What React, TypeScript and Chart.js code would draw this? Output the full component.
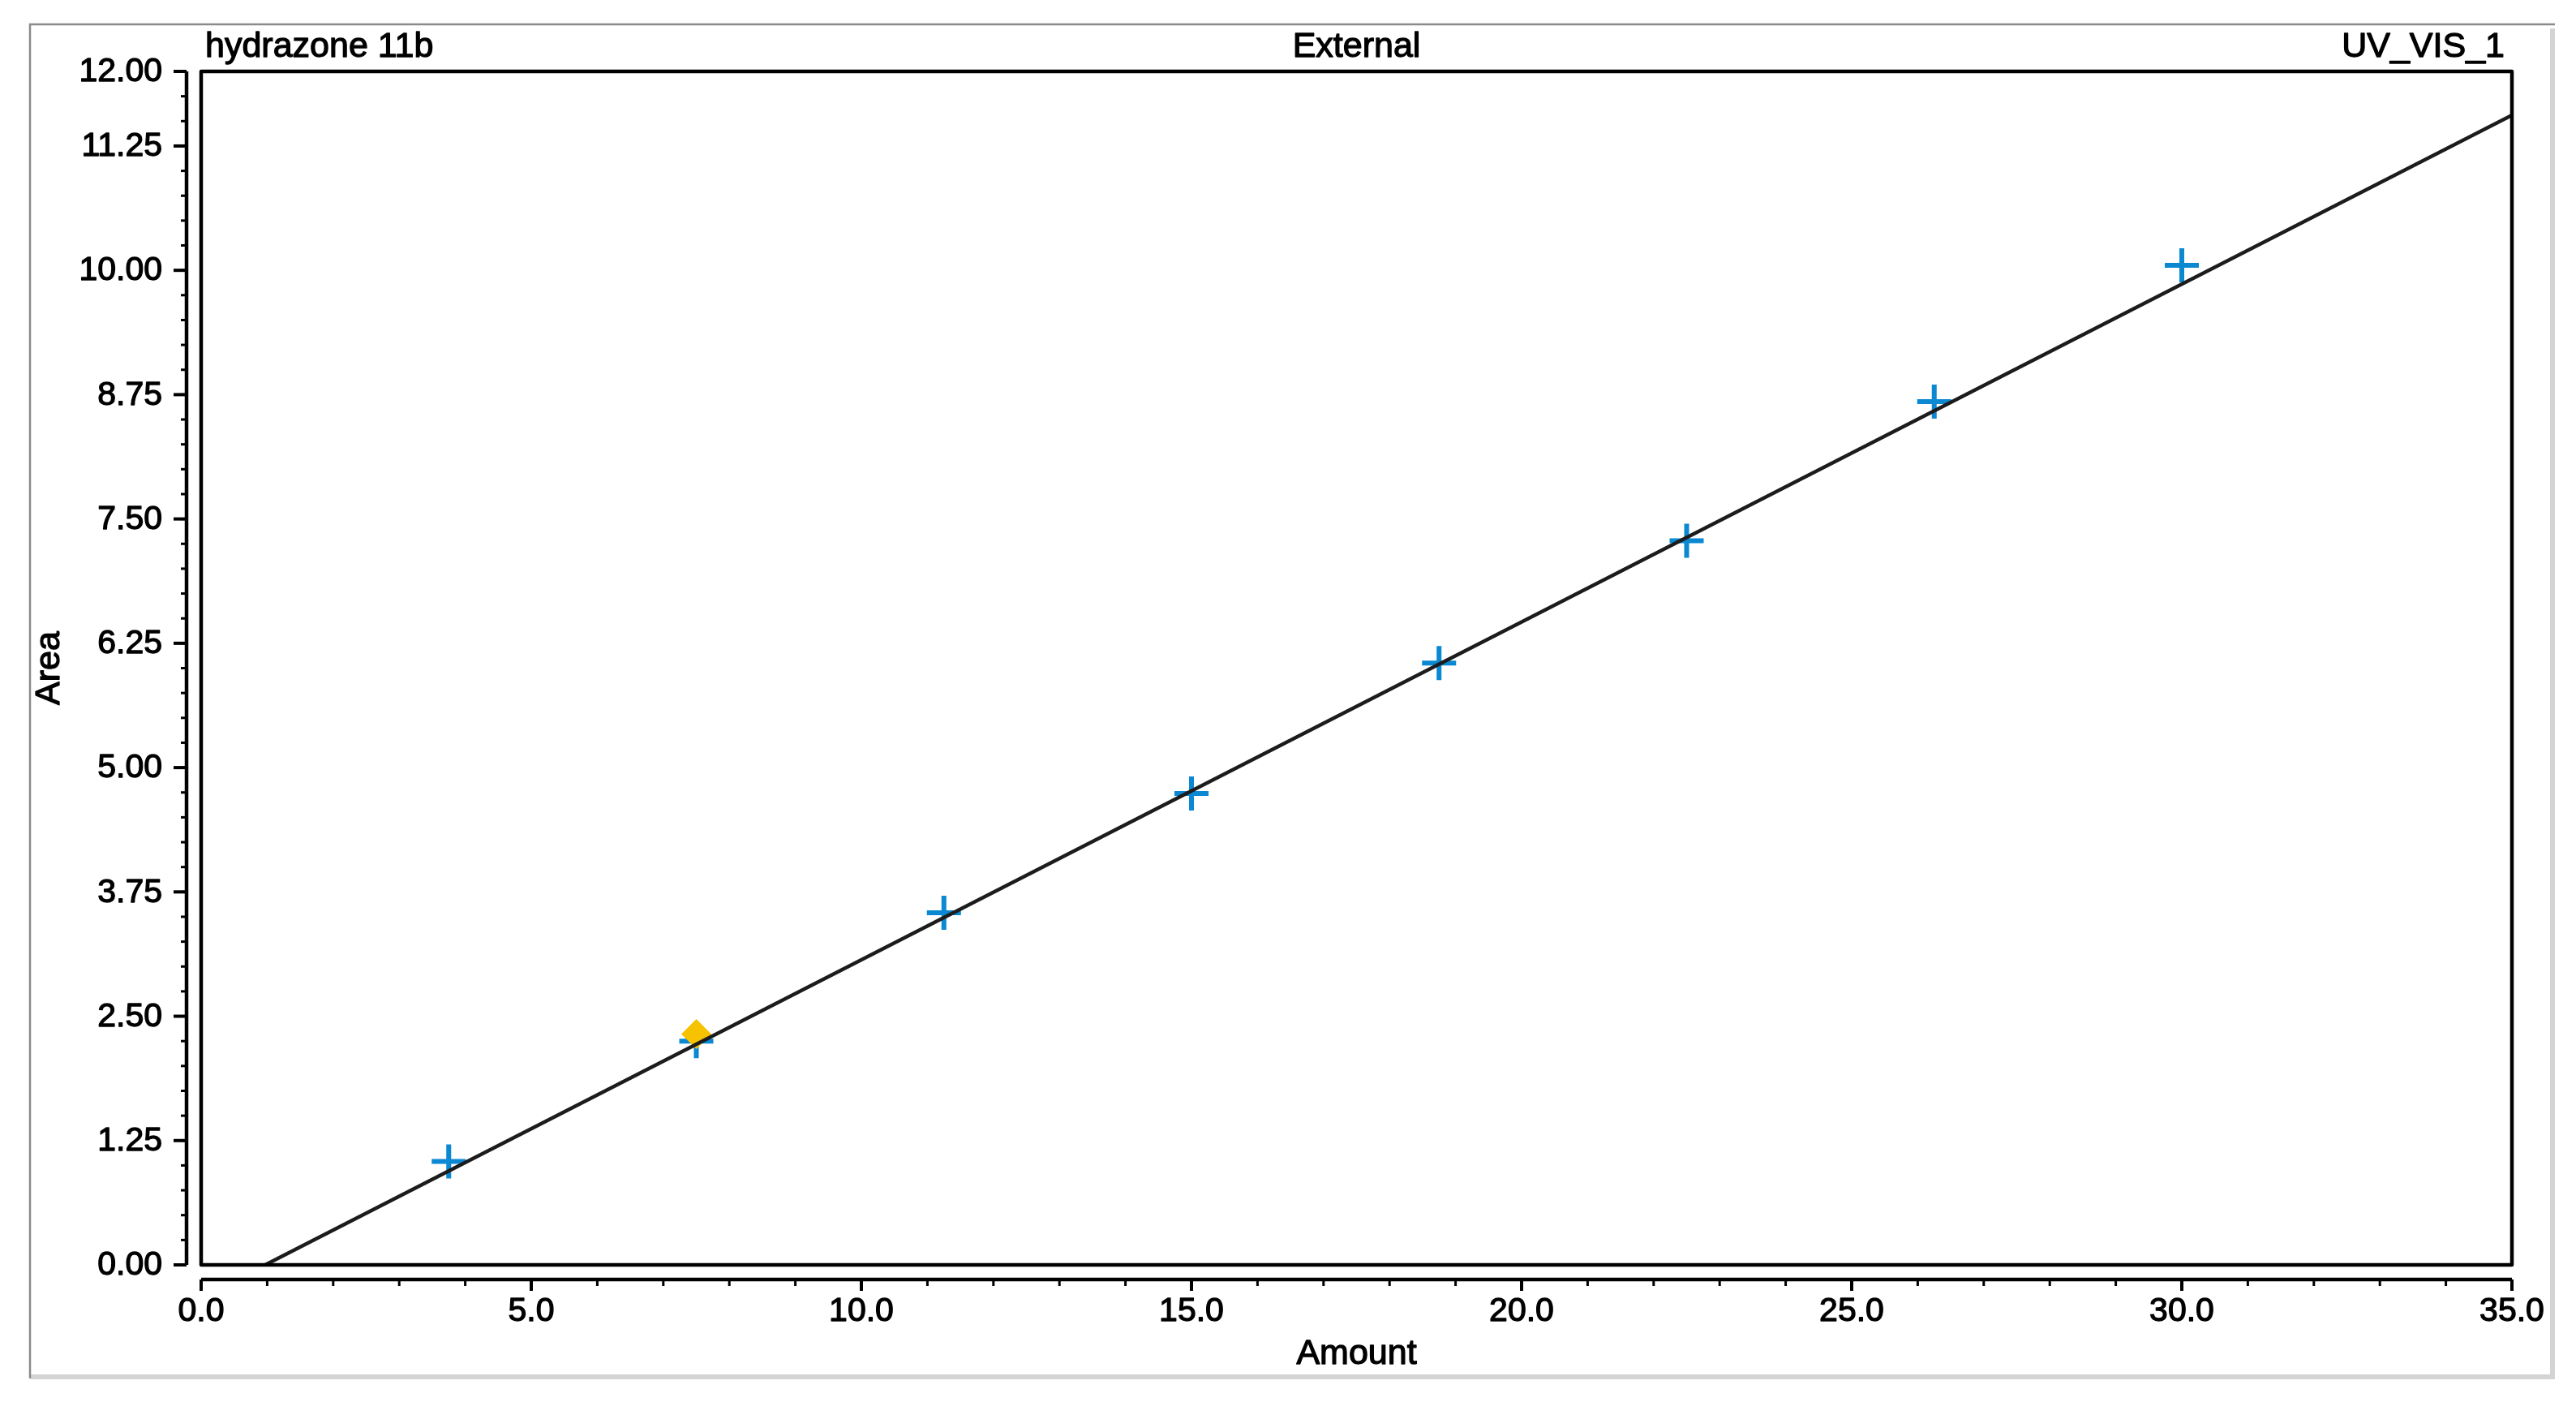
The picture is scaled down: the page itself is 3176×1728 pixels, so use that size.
import React, { useEffect, useRef } from "react";
import { Chart, registerables } from "chart.js";

Chart.register(...registerables);

// ---- data ----
const standardAmounts = [3.75, 7.5, 11.25, 15.0, 18.75, 22.5, 26.25, 30.0];
const standardAreas = [1.04, 2.25, 3.54, 4.74, 6.05, 7.28, 8.68, 10.05];
const sampleAmounts = [7.5];
const sampleAreas = [2.32];
const fitAmounts = [0.97, 35.0];
const fitAreas = [0.0, 11.56];

const xMajorTicks = [0, 5, 10, 15, 20, 25, 30, 35];
const xTickLabels = ["0.0", "5.0", "10.0", "15.0", "20.0", "25.0", "30.0", "35.0"];
const xMinorStep = 1.0;
const yMajorTicks = [0, 1.25, 2.5, 3.75, 5, 6.25, 7.5, 8.75, 10, 11.25, 12];
const yTickLabels = ["0.00", "1.25", "2.50", "3.75", "5.00", "6.25", "7.50", "8.75", "10.00", "11.25", "12.00"];
const yMinorStep = 0.25;

const titleLeft = "hydrazone 11b";
const titleCenter = "External";
const titleRight = "UV_VIS_1";
const xAxisTitle = "Amount";
const yAxisTitle = "Area";

const W = 3176;
const H = 1728;
const FONT = '"Liberation Sans", Arial, sans-serif';

function heavyText(ctx: CanvasRenderingContext2D, s: string, x: number, y: number) {
  ctx.fillText(s, x, y);
  ctx.strokeText(s, x, y);
}

const axesPlugin = {
  id: "chromeleonAxes",
  afterDraw(chart: any) {
    const ctx: CanvasRenderingContext2D = chart.ctx;
    const { left, right, top, bottom } = chart.chartArea;
    const xs = chart.scales.x;
    const ys = chart.scales.y;
    ctx.save();

    // outer frame
    ctx.lineCap = "butt";
    ctx.strokeStyle = "#d4d4d4";
    ctx.lineWidth = 6;
    ctx.beginPath();
    ctx.moveTo(3147, 35);
    ctx.lineTo(3147, 1697);
    ctx.lineTo(38, 1697);
    ctx.stroke();
    ctx.strokeStyle = "#8a8a8a";
    ctx.lineWidth = 2.5;
    ctx.beginPath();
    ctx.moveTo(37, 1699);
    ctx.lineTo(37, 30);
    ctx.lineTo(3150, 30);
    ctx.stroke();

    // plot box
    ctx.strokeStyle = "#000";
    ctx.lineWidth = 4.5;
    ctx.lineJoin = "round";
    ctx.strokeRect(left, top, right - left, bottom - top);

    // y ruler
    const yr = left - 18;
    const y0 = ys.getPixelForValue(ys.min);
    const y1 = ys.getPixelForValue(ys.max);
    ctx.lineWidth = 4.5;
    ctx.beginPath();
    ctx.moveTo(yr, y1);
    ctx.lineTo(yr, y0);
    ctx.stroke();
    ctx.lineWidth = 3;
    const nY = Math.round((ys.max - ys.min) / yMinorStep);
    for (let i = 0; i <= nY; i++) {
      const v = ys.min + i * yMinorStep;
      const py = ys.getPixelForValue(v);
      ctx.beginPath();
      ctx.moveTo(yr, py);
      ctx.lineTo(yr - 7, py);
      ctx.stroke();
    }
    ctx.fillStyle = "#000";
    ctx.font = `41px ${FONT}`;
    ctx.textAlign = "right";
    ctx.textBaseline = "middle";
    yMajorTicks.forEach((v, i) => {
      const py = ys.getPixelForValue(v);
      ctx.lineWidth = 4;
      ctx.beginPath();
      ctx.moveTo(yr, py);
      ctx.lineTo(yr - 16, py);
      ctx.stroke();
      ctx.lineWidth = 1.3;
      heavyText(ctx, yTickLabels[i], left - 48, py + 1);
    });

    // x ruler
    const xr = bottom + 18;
    const x0 = xs.getPixelForValue(xs.min);
    const x1 = xs.getPixelForValue(xs.max);
    ctx.lineWidth = 4.5;
    ctx.beginPath();
    ctx.moveTo(x0, xr);
    ctx.lineTo(x1, xr);
    ctx.stroke();
    ctx.lineWidth = 3;
    const nX = Math.round((xs.max - xs.min) / xMinorStep);
    for (let i = 0; i <= nX; i++) {
      const v = xs.min + i * xMinorStep;
      const px = xs.getPixelForValue(v);
      ctx.beginPath();
      ctx.moveTo(px, xr);
      ctx.lineTo(px, xr + 8);
      ctx.stroke();
    }
    ctx.textAlign = "center";
    ctx.textBaseline = "middle";
    xMajorTicks.forEach((v, i) => {
      const px = xs.getPixelForValue(v);
      ctx.lineWidth = 4;
      ctx.beginPath();
      ctx.moveTo(px, xr);
      ctx.lineTo(px, xr + 14);
      ctx.stroke();
      ctx.lineWidth = 1.3;
      heavyText(ctx, xTickLabels[i], px, 1617);
    });

    // titles
    ctx.lineWidth = 1.3;
    ctx.font = `43px ${FONT}`;
    ctx.textBaseline = "alphabetic";
    ctx.textAlign = "left";
    heavyText(ctx, titleLeft, 253, 70);
    ctx.textAlign = "center";
    heavyText(ctx, titleCenter, (left + right) / 2, 70);
    ctx.textAlign = "right";
    heavyText(ctx, titleRight, 3088, 70);

    // axis titles
    ctx.textAlign = "center";
    heavyText(ctx, xAxisTitle, (left + right) / 2, 1681);
    ctx.save();
    ctx.translate(61, (top + bottom) / 2);
    ctx.rotate(-Math.PI / 2);
    ctx.textBaseline = "middle";
    heavyText(ctx, yAxisTitle, 0, 0);
    ctx.restore();

    ctx.restore();
  },
};

export default function App() {
  const ref = useRef<HTMLCanvasElement | null>(null);

  useEffect(() => {
    document.body.style.margin = "0";
    const canvas = ref.current;
    if (!canvas) return;
    const chart = new Chart(canvas, {
      type: "scatter",
      data: {
        datasets: [
          {
            label: "Calibration line",
            type: "line",
            data: fitAmounts.map((x, i) => ({ x, y: fitAreas[i] })),
            borderColor: "#1c1c1c",
            borderWidth: 4.5,
            pointRadius: 0,
            showLine: true,
            fill: false,
            order: 0,
          } as any,
          {
            label: "Sample",
            data: sampleAmounts.map((x, i) => ({ x, y: sampleAreas[i] })),
            pointStyle: "rectRot",
            pointRadius: 18,
            backgroundColor: "#f7c200",
            borderColor: "#f7c200",
            borderWidth: 1,
            order: 1,
          },
          {
            label: "Standards",
            data: standardAmounts.map((x, i) => ({ x, y: standardAreas[i] })),
            pointStyle: "cross",
            pointRadius: 21,
            borderColor: "#0a88d2",
            backgroundColor: "#0a88d2",
            borderWidth: 6,
            order: 2,
          },
        ],
      },
      options: {
        responsive: false,
        maintainAspectRatio: false,
        devicePixelRatio: 1,
        animation: false,
        layout: { padding: { left: 248, top: 88, right: W - 3097, bottom: H - 1559 } },
        plugins: { legend: { display: false }, tooltip: { enabled: false }, title: { display: false } },
        scales: {
          x: { type: "linear", min: 0, max: 35, display: false },
          y: { type: "linear", min: 0, max: 12, display: false },
        },
      },
      plugins: [axesPlugin],
    });
    return () => chart.destroy();
  }, []);

  return (
    <canvas
      ref={ref}
      width={W}
      height={H}
      style={{ display: "block", width: W, height: H }}
    />
  );
}
